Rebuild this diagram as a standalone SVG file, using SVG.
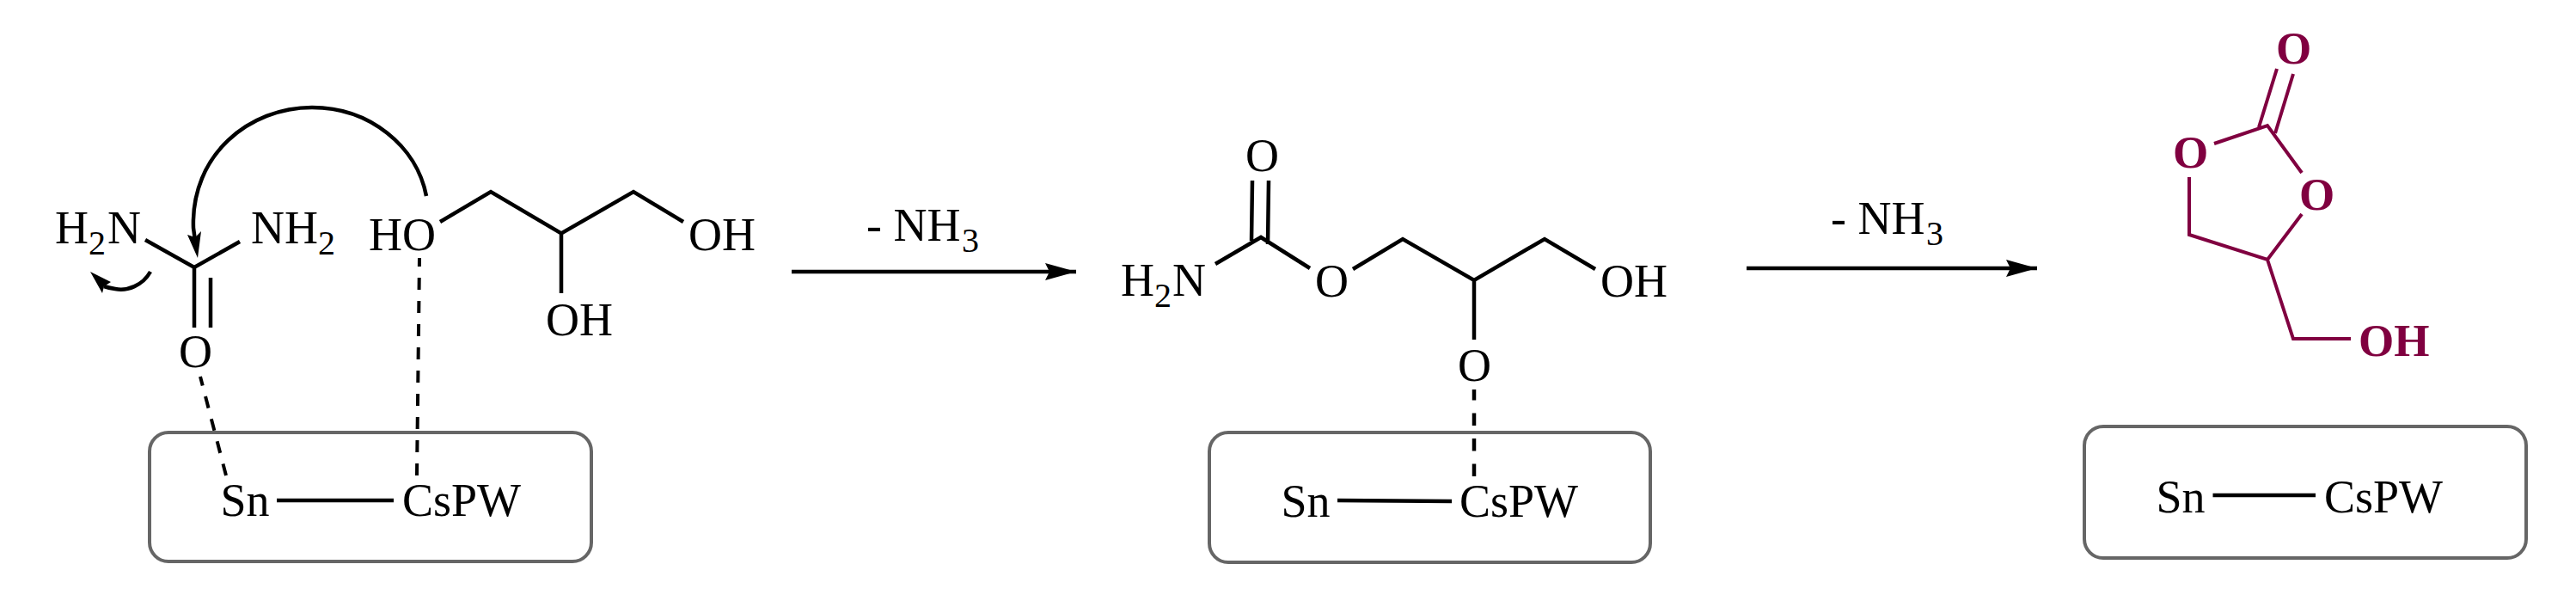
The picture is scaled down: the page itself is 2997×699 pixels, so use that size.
<svg xmlns="http://www.w3.org/2000/svg" width="2997" height="699" viewBox="0 0 2997 699">
<style>
text{font-family:"Liberation Serif","Times New Roman",serif;font-size:54px;fill:#000}
.sub{font-size:40px}
.p text{fill:#800040;font-weight:bold;font-size:53px}
.box{fill:none;stroke:#666;stroke-width:4}
.b{fill:none;stroke:#000;stroke-width:4.500}
.pb{fill:none;stroke:#800040;stroke-width:4}
.d{fill:none;stroke:#000;stroke-width:4;stroke-dasharray:14 13}
.d2{fill:none;stroke:#000;stroke-width:4.500;stroke-dasharray:14.500 15}
</style>
<defs>
<marker id="head" markerUnits="userSpaceOnUse" markerWidth="38" markerHeight="24" refX="36" refY="12" orient="auto"><path d="M0 2L36 12L0 22L5 12Z" fill="#000"/></marker>
</defs>
<rect width="2997" height="699" fill="#fff"/>
<g id="connectors">
<path class="b" d="M169 279L226 311L279 281M226 311V381M245 323V381M512 258L571 223L653 271.500L737 223L795 258M653 271.500V341"/>
<path class="d" d="M485 553L488 300M263 553L233 438"/>
<path class="b" d="M322 582H458"/>
<path class="b" d="M496 228C485 170 430 125 363 125C290 125 222 180 225 265L227 280"/>
<path d="M230 300L218 273L227 276L234 269Z" fill="#000"/>
<path class="b" d="M175 316C166 332 148 339 134 336C128 335 124 334 121 333"/>
<path d="M105 316L129 328L121 333L119 341Z" fill="#000"/>
<path class="b" marker-end="url(#head)" d="M921 316H1252"/>
<path class="b" d="M1414 307L1467 276L1524 312M1457 210L1456 280M1476 210L1475 284M1574 313L1632 278L1715 326L1797 278L1856 313M1715 326V395"/>
<path class="d2" d="M1715 554V453"/>
<path class="b" d="M1556 582L1689 583"/>
<path class="b" marker-end="url(#head)" d="M2032 312H2370"/>
<path class="pb" d="M2649 80L2628 148M2668 86L2647 155M2576 167L2638 146L2678 201M2547 206V273L2638 302L2678 249M2638 302L2668 394H2735"/>
<path class="b" d="M2574.500 576H2694"/>
</g>
<g id="box-1"><rect class="box" x="174" y="503" width="514" height="150" rx="22"/></g>
<g id="box-2"><rect class="box" x="1407" y="503" width="513" height="151" rx="22"/></g>
<g id="box-3"><rect class="box" x="2425" y="496" width="514" height="153" rx="22"/></g>
<g id="urea-h2n"><text x="64" y="283">H</text><text class="sub" x="103" y="296">2</text><text x="125" y="283">N</text></g>
<g id="urea-nh2"><text x="292" y="283">NH</text><text class="sub" x="370" y="296">2</text></g>
<g id="urea-o"><text x="208" y="427">O</text></g>
<g id="glycerol-ho"><text x="429" y="291">HO</text></g>
<g id="glycerol-oh1"><text x="801" y="291">OH</text></g>
<g id="glycerol-oh2"><text x="635" y="390">OH</text></g>
<g id="sn-1"><text x="256.500" y="600">Sn</text></g>
<g id="cspw-1"><text x="468" y="600">CsPW</text></g>
<g id="label-1"><text x="1008" y="280">- NH</text><text class="sub" x="1119" y="293">3</text></g>
<g id="carbamate-o"><text x="1449" y="199">O</text></g>
<g id="carbamate-h2n"><text x="1304" y="344">H</text><text class="sub" x="1343" y="357">2</text><text x="1364" y="344">N</text></g>
<g id="carbamate-o2"><text x="1530" y="345">O</text></g>
<g id="carbamate-oh"><text x="1862" y="345">OH</text></g>
<g id="carbamate-o3"><text x="1696" y="443">O</text></g>
<g id="sn-2"><text x="1490.500" y="601">Sn</text></g>
<g id="cspw-2"><text x="1698" y="601">CsPW</text></g>
<g id="label-2"><text x="2130" y="272">- NH</text><text class="sub" x="2241" y="285">3</text></g>
<g id="product" class="p"><text x="2648" y="74">O</text><text x="2528" y="195">O</text><text x="2675" y="244">O</text><text x="2744" y="414">OH</text></g>
<g id="sn-3"><text x="2508.500" y="596">Sn</text></g>
<g id="cspw-3"><text x="2704" y="596">CsPW</text></g>
</svg>
